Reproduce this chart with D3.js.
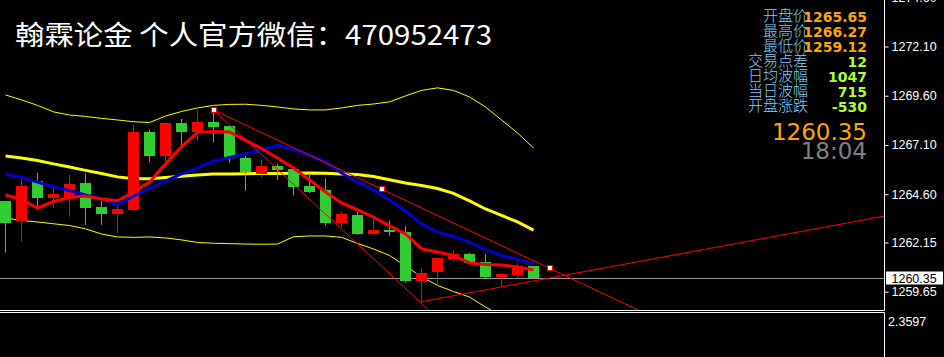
<!DOCTYPE html>
<html><head><meta charset="utf-8">
<script src="https://cdn.jsdelivr.net/npm/d3@7/dist/d3.min.js"></script>
<style>html,body{margin:0;padding:0;background:#000;overflow:hidden}</style>
</head><body><svg id="c" width="944" height="357"></svg>
<script>
// ---- data ----
const opens  = [1264.26,1263.24,1265.27,1264.42,1264.39,1265.17,1263.95,1263.61,1263.82,1267.76,1266.56,1268.22,1267.78,1268.27,1268.07,1266.44,1265.63,1266.03,1265.88,1265.02,1264.82,1263.15,1263.55,1262.60,1262.80,1262.68,1260.21,1260.67,1261.31,1261.56,1261.16,1260.41,1260.51,1260.96];
const highs  = [1264.26,1265.36,1265.69,1265.02,1265.58,1265.66,1264.27,1264.09,1268.12,1267.86,1268.22,1268.42,1268.88,1268.88,1268.07,1266.56,1266.34,1266.14,1265.88,1265.66,1265.41,1263.71,1263.71,1263.51,1263.26,1262.99,1260.85,1261.36,1261.77,1261.62,1261.56,1260.56,1261.11,1260.96];
const lows   = [1261.63,1262.19,1263.97,1263.92,1263.46,1263.04,1263.04,1262.62,1263.80,1266.25,1266.09,1266.93,1267.32,1267.22,1266.20,1264.78,1265.45,1265.32,1264.53,1264.65,1263.00,1262.90,1262.55,1262.55,1262.49,1260.11,1259.14,1259.95,1261.17,1261.07,1260.31,1259.90,1260.30,1260.35];
const closes = [1263.15,1265.02,1264.42,1264.61,1265.12,1263.92,1263.61,1263.85,1267.76,1266.56,1268.22,1267.78,1268.27,1268.03,1266.46,1265.75,1266.03,1265.83,1264.98,1264.73,1263.15,1263.60,1262.60,1262.78,1262.70,1260.21,1260.60,1261.36,1261.56,1261.12,1260.40,1260.56,1260.96,1260.35];
const maFast = [1264.56,1264.33,1263.90,1264.23,1264.43,1264.51,1264.36,1264.27,1264.71,1265.22,1266.14,1267.00,1267.74,1267.78,1267.76,1267.33,1266.92,1266.44,1265.93,1265.32,1264.71,1264.16,1263.80,1263.44,1262.99,1262.58,1261.82,1261.67,1261.49,1261.11,1261.03,1261.01,1260.91,1260.75];
const maMid  = [1265.63,1265.45,1265.22,1264.97,1264.79,1264.56,1264.36,1264.05,1264.51,1264.87,1265.27,1265.63,1265.93,1266.29,1266.47,1266.64,1266.85,1267.08,1266.87,1266.59,1266.24,1265.68,1265.22,1264.82,1264.31,1263.75,1263.09,1262.68,1262.45,1262.17,1261.79,1261.49,1261.29,1261.06];
const maSlow = [1266.54,1266.44,1266.31,1266.14,1265.98,1265.81,1265.65,1265.48,1265.39,1265.39,1265.45,1265.51,1265.58,1265.63,1265.63,1265.64,1265.65,1265.65,1265.66,1265.68,1265.66,1265.63,1265.60,1265.50,1265.33,1265.17,1265.04,1264.89,1264.64,1264.26,1263.85,1263.52,1263.19,1262.78];
const bbUpper= [1269.64,1269.39,1269.11,1268.78,1268.62,1268.55,1268.45,1268.37,1268.28,1268.24,1268.57,1268.80,1268.98,1269.11,1269.16,1269.17,1269.11,1269.03,1268.93,1268.88,1268.88,1268.98,1269.11,1269.18,1269.29,1269.59,1269.87,1270.00,1269.87,1269.54,1269.03,1268.37,1267.71,1266.95];
const bbLower= [1263.39,1263.27,1263.19,1263.10,1263.01,1262.84,1262.58,1262.43,1262.41,1262.43,1262.38,1262.28,1262.15,1262.11,1262.09,1262.07,1262.06,1262.07,1262.44,1262.48,1262.48,1262.41,1262.10,1261.82,1261.49,1260.96,1260.40,1259.97,1259.66,1259.38,1258.87,1258.42,1258.01,1257.70];
const yTickValues = [1274.60,1272.10,1269.60,1267.10,1264.60,1262.15,1259.65];
const bidPrice = 1260.35;
const subPanelLabel = "2.3597";
// trend lines: [barIndex, price] anchor pairs (drawn as rays)
const trendLines = [
  [[13,1268.88],[34,1260.84]],
  [[13,1268.88],[26,1259.06]],
  [[26,1259.14],[55,1263.50]]
];
const trendMarkers = [[13,1268.88],[23.5,1264.86],[34,1260.84]];
const titleText = "翰霖论金 个人官方微信：470952473";
const infoLabels = ["开盘价","最高价","最低价","交易点差","日均波幅","当日波幅","开盘涨跌"];
const infoValues = ["1265.65","1266.27","1259.12","12","1047","715","-530"];
const bigPrice = "1260.35";
const clockText = "18:04";

// ---- drawing ----
const svg = d3.select("#c");
svg.append("rect").attr("width",944).attr("height",357).attr("fill","#000");

const axisX = 884.5, panelBottom = 310;
const x = d3.scaleLinear().domain([0,33]).range([5.5,533.5]);
const y = d3.scaleLinear().domain([1259.65,1272.10]).range([291.7,46.5]);

svg.append("defs").append("clipPath").attr("id","main")
  .append("rect").attr("x",0).attr("y",0).attr("width",884).attr("height",panelBottom);

const g = svg.append("g").attr("clip-path","url(#main)");

// Bollinger bands (thin)
const line = d3.line().x((d,i)=>x(i)).y(d=>y(d));
[bbUpper,bbLower].forEach(s=>{
  g.append("path").attr("d",line(s)).attr("fill","none").attr("stroke","#ffff00").attr("stroke-width",1);
});
// slow MA
g.append("path").attr("d",line(maSlow)).attr("fill","none").attr("stroke","#ffff00").attr("stroke-width",3);

// bid line
g.append("line").attr("x1",0).attr("x2",884).attr("y1",Math.round(y(bidPrice))+0.5).attr("y2",Math.round(y(bidPrice))+0.5)
  .attr("stroke","#9a9a9a").attr("stroke-width",1);

// candles
const idx = d3.range(opens.length);
const up = i => closes[i] >= opens[i];
const col = i => up(i) ? "#ff0000" : "#32cd32";
g.selectAll("line.wick").data(idx).join("line").attr("class","wick")
  .attr("x1",i=>x(i)).attr("x2",i=>x(i))
  .attr("y1",i=>y(highs[i])).attr("y2",i=>y(lows[i]))
  .attr("stroke",col).attr("stroke-width",1);
g.selectAll("rect.body").data(idx).join("rect").attr("class","body")
  .attr("x",i=>x(i)-5.5).attr("width",11)
  .attr("y",i=>Math.round(y(Math.max(opens[i],closes[i]))))
  .attr("height",i=>Math.max(2,Math.round(y(Math.min(opens[i],closes[i])))-Math.round(y(Math.max(opens[i],closes[i])))))
  .attr("fill",col);

// MAs
g.append("path").attr("d",line(maMid)).attr("fill","none").attr("stroke","#0000cd").attr("stroke-width",3);
g.append("path").attr("d",line(maFast)).attr("fill","none").attr("stroke","#ff0000").attr("stroke-width",3);

// trend lines (rays)
trendLines.forEach(([[b1,p1],[b2,p2]])=>{
  const slope=(p2-p1)/(b2-b1);
  const bEnd = b1 + 40;
  g.append("line").attr("x1",x(b1)).attr("y1",y(p1)).attr("x2",x(bEnd)).attr("y2",y(p1+slope*(bEnd-b1)))
   .attr("stroke","#ff0000").attr("stroke-width",1);
});
trendMarkers.forEach(([b,p])=>{
  g.append("rect").attr("x",Math.round(x(b))-2.5).attr("y",Math.round(y(p))-2.5).attr("width",5).attr("height",5)
   .attr("fill","#fff").attr("stroke","#ff0000").attr("stroke-width",1);
});

// frame
svg.append("line").attr("x1",0).attr("x2",axisX).attr("y1",310.5).attr("y2",310.5).attr("stroke","#fff");
svg.append("line").attr("x1",0).attr("x2",axisX).attr("y1",312.5).attr("y2",312.5).attr("stroke","#fff");
svg.append("line").attr("x1",axisX).attr("x2",axisX).attr("y1",0).attr("y2",310.5).attr("stroke","#fff");
svg.append("line").attr("x1",axisX).attr("x2",axisX).attr("y1",312.5).attr("y2",357).attr("stroke","#fff");

// price axis
const ax = svg.append("g").attr("transform",`translate(${axisX},0)`)
  .call(d3.axisRight(y).tickValues(yTickValues).tickFormat(d3.format(".2f")).tickSize(4).tickPadding(3));
ax.select(".domain").remove();
ax.selectAll(".tick line").attr("stroke","#fff");
ax.selectAll(".tick text").attr("fill","#fff").style("font-family","'Liberation Sans',Arial,sans-serif").style("font-size","12.5px");

// bid price box
const by = Math.round(y(bidPrice));
svg.append("rect").attr("x",886).attr("y",by-6.5).attr("width",57).attr("height",13).attr("fill","#fff");
svg.append("text").attr("x",891.5).attr("y",by+4.5).text(d3.format(".2f")(bidPrice))
  .attr("fill","#000").style("font-family","'Liberation Sans',Arial,sans-serif").style("font-size","12.5px");

// sub panel label
svg.append("text").attr("x",888).attr("y",326).text(subPanelLabel)
  .attr("fill","#fff").style("font-family","'Liberation Sans',Arial,sans-serif").style("font-size","12.5px");

// title
svg.append("text").attr("x",15).attr("y",45).text(titleText)
  .attr("fill","#fff").attr("textLength",477).attr("lengthAdjust","spacingAndGlyphs")
  .style("font-family","'Noto Sans CJK SC',sans-serif").style("font-size","27px");

// info panel
infoLabels.forEach((t,k)=>{
  svg.append("text").attr("x",808).attr("y",21+15*k).attr("text-anchor","end").text(t)
    .attr("fill","#87cefa").style("font-family","'Noto Sans CJK SC',sans-serif").style("font-size","15px").style("font-weight","300");
});
infoValues.forEach((t,k)=>{
  svg.append("text").attr("x",867).attr("y",21.7+15*k).attr("text-anchor","end").text(t)
    .attr("fill",k<3?"#ffa500":"#adff2f").style("font-family","'DejaVu Sans',sans-serif").style("font-size","14px").style("font-weight","bold");
});
svg.append("text").attr("x",867).attr("y",140).attr("text-anchor","end").text(bigPrice)
  .attr("fill","#ffa500").style("font-family","'DejaVu Sans',sans-serif").style("font-size","23px");
svg.append("text").attr("x",867).attr("y",159.3).attr("text-anchor","end").text(clockText)
  .attr("fill","#808080").style("font-family","'DejaVu Sans',sans-serif").style("font-size","23px");
</script></body></html>
